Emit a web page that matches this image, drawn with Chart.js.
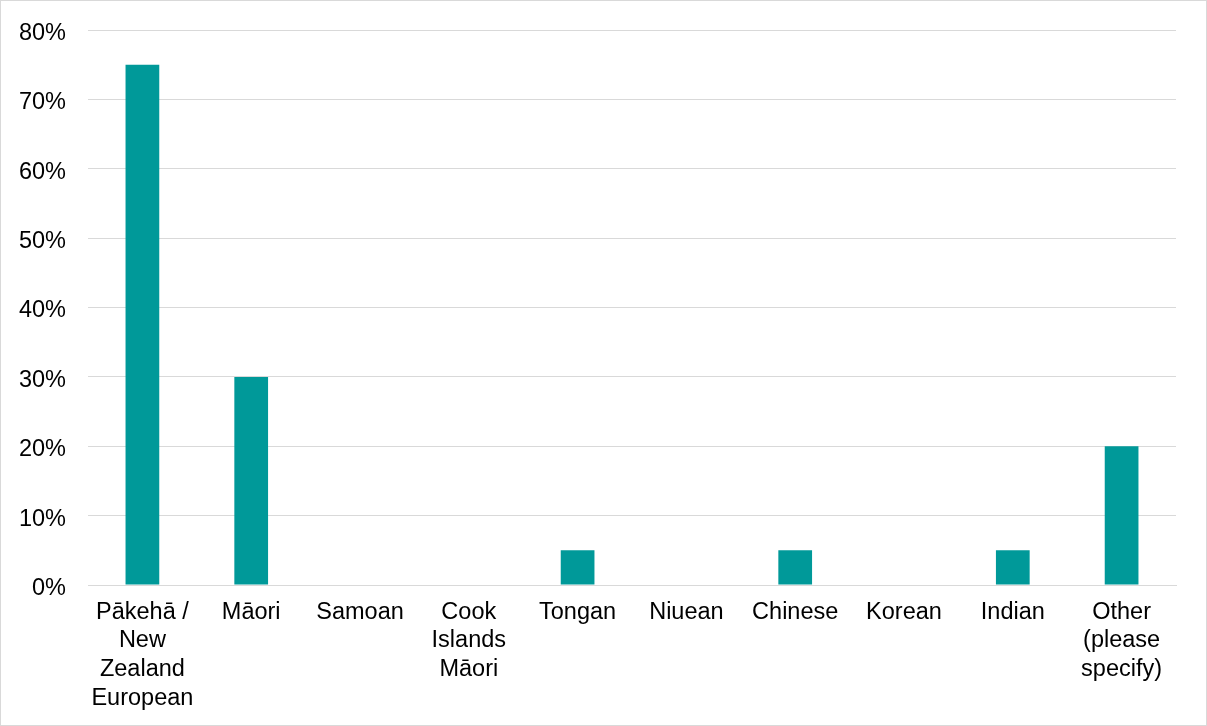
<!DOCTYPE html>
<html>
<head>
<meta charset="utf-8">
<script src="https://cdn.jsdelivr.net/npm/chart.js@4/dist/chart.umd.min.js"></script>
<style>
    html, body { margin: 0; padding: 0; background: #fff; }
    #wrap {
        width: 1207px; height: 726px; box-sizing: border-box;
        border: 1px solid #d9d9d9; position: relative;
    }
    #ethnicityChart { display: block; }
</style>
</head>
<body>
<div id="wrap">
    <canvas id="ethnicityChart" width="1205" height="724"></canvas>
</div>
<script>
// Ethnicity of respondents (percent)
var categories = [
    ['Pākehā /', 'New', 'Zealand', 'European'],
    'Māori',
    'Samoan',
    ['Cook', 'Islands', 'Māori'],
    'Tongan',
    'Niuean',
    'Chinese',
    'Korean',
    'Indian',
    ['Other', '(please', 'specify)']
];
var percentages = [75, 30, 0, 0, 5, 0, 5, 0, 5, 20];
var yTicks = [0, 10, 20, 30, 40, 50, 60, 70, 80];

var fontFamily = 'Arial, "Liberation Sans", sans-serif';

var ctx = document.getElementById('ethnicityChart').getContext('2d');
new Chart(ctx, {
    type: 'bar',
    data: {
        labels: categories,
        datasets: [{
            data: percentages,
            backgroundColor: '#009999',
            borderWidth: 0,
            barPercentage: 0.31,
            categoryPercentage: 1
        }]
    },
    options: {
        responsive: false,
        animation: false,
        layout: { padding: { top: 29, right: 30, left: 0, bottom: 0 } },
        plugins: {
            legend: { display: false },
            tooltip: { enabled: false }
        },
        scales: {
            x: {
                grid: { display: false, drawTicks: false },
                border: { display: true, color: '#d9d9d9', width: 1 },
                ticks: {
                    color: '#000',
                    font: { family: fontFamily, size: 23.5, lineHeight: 1.22 },
                    padding: 13,
                    maxRotation: 0,
                    autoSkip: false
                },
                afterFit: function(scale) { scale.height = 140; }
            },
            y: {
                min: yTicks[0],
                max: yTicks[yTicks.length - 1],
                afterBuildTicks: function(scale) {
                    scale.ticks = yTicks.map(function(v) { return { value: v }; });
                },
                grid: { color: '#d9d9d9', lineWidth: 1, drawTicks: false },
                border: { display: false },
                ticks: {
                    color: '#000',
                    // small line height + empty first line nudges the text down a few px
                    font: { family: fontFamily, size: 23.5, lineHeight: '7px' },
                    padding: 22,
                    callback: function(v) { return ['', v + '%']; }
                },
                afterFit: function(scale) {
                    scale.width = 87;
                    // let the top label hang into the padding
                    scale.paddingTop = 0;
                    scale.paddingBottom = 0;
                }
            }
        }
    }
});
</script>
</body>
</html>
